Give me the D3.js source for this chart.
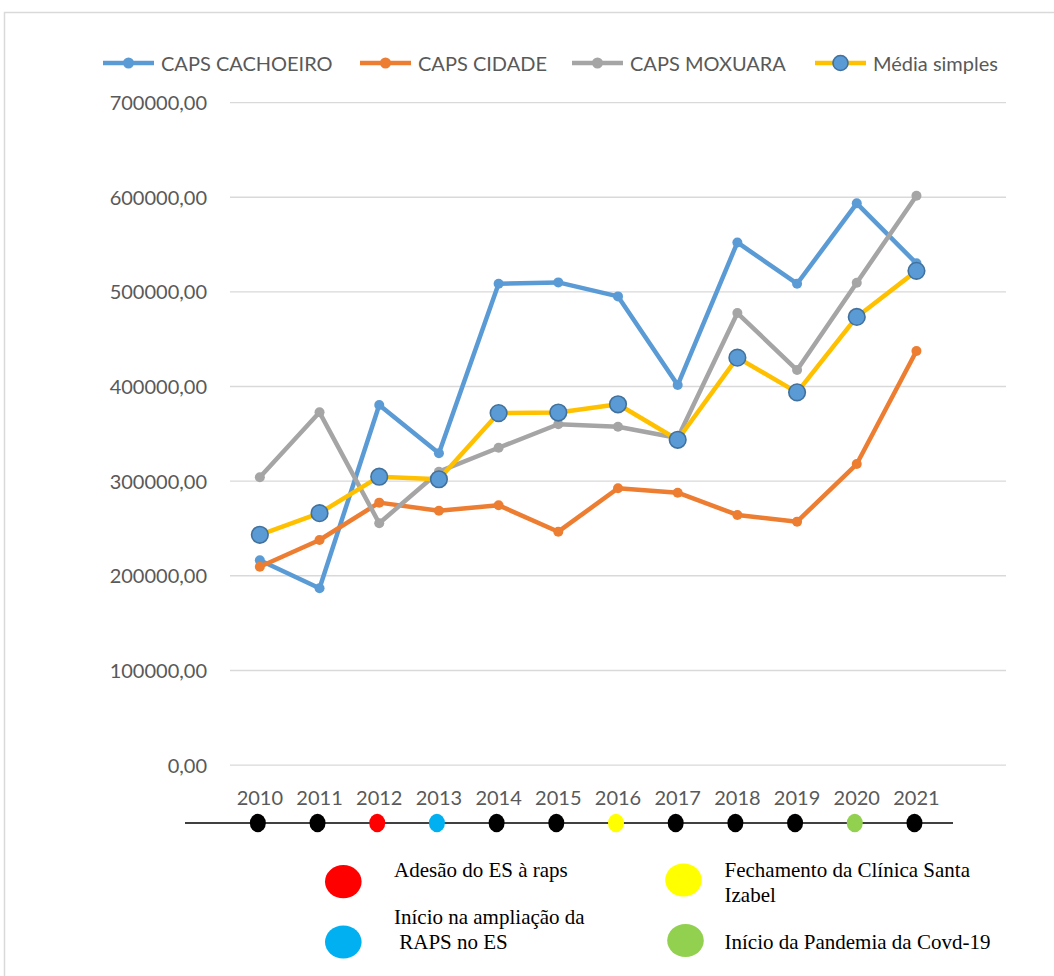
<!DOCTYPE html>
<html>
<head>
<meta charset="utf-8">
<script src="https://cdn.jsdelivr.net/npm/d3@7"></script>
<style>
  html, body { margin: 0; padding: 0; background: #ffffff; }
  svg { display: block; }
</style>
</head>
<body>
<svg id="chart" width="1054" height="976"></svg>
<script>
// Years on the category axis
const years = ["2010", "2011", "2012", "2013", "2014", "2015", "2016", "2017", "2018", "2019", "2020", "2021"];

// Yearly values per service
const cachoeiro = [216000, 186300, 380000, 329000, 508000, 509500, 494700, 401000, 551700, 508100, 593000, 529600];
const cidade    = [209100, 237300, 276800, 268300, 274000, 246100, 292000, 287300, 263800, 256700, 317600, 437000];
const moxuara   = [303600, 372200, 255000, 309500, 334800, 359600, 357000, 345000, 477100, 416900, 509200, 601000];
const media     = [242800, 265700, 304200, 301500, 371400, 372000, 380700, 343200, 430000, 393300, 473000, 521700];

const seriesNames = ["CAPS CACHOEIRO", "CAPS CIDADE", "CAPS MOXUARA", "Média simples"];

// Value axis ticks
const yTicks = [0, 100000, 200000, 300000, 400000, 500000, 600000, 700000];

// Event marker colour for each year on the timeline
const yearEventColors = ["#000000", "#000000", "#ff0000", "#00b0f0", "#000000", "#000000",
                         "#ffff00", "#000000", "#000000", "#000000", "#92d050", "#000000"];

// Event key
const eventColors = ["#ff0000", "#ffff00", "#00b0f0", "#92d050"];
const eventTexts = [
  ["Adesão do ES à raps"],
  ["Fechamento da Clínica Santa", "Izabel"],
  ["Início na ampliação da", " RAPS no ES"],
  ["Início da Pandemia da Covd-19"]
];

// ---------- layout & styles ----------
const seriesData = [cachoeiro, cidade, moxuara, media];
const seriesColors = ["#5b9bd5", "#ed7d31", "#a5a5a5", "#ffc000"];
const axisFont = "Lato, 'Open Sans', sans-serif";
const serifFont = "'Liberation Serif', 'Times New Roman', serif";
const textGrey = "#595959";

const plotL = 230, plotR = 1006, plotTop = 102.1, plotBottom = 764.6;
const step = (plotR - plotL) / 13;

const svg = d3.select("#chart");

// outer frame
svg.append("rect")
  .attr("x", 4.5).attr("y", 12.5)
  .attr("width", 1200).attr("height", 1100)
  .attr("fill", "#ffffff")
  .attr("stroke", "#d9d9d9").attr("stroke-width", 1.5);

const x = d3.scaleBand().domain(years).range([plotL, plotL + 12 * step]);
const xc = d => x(d) + x.bandwidth() / 2;
const y = d3.scaleLinear().domain([0, 700000]).range([plotBottom, plotTop]);

const fmt = v => v.toFixed(2).replace(".", ",");

// value axis with gridlines
const yAxis = svg.append("g")
  .attr("transform", `translate(${plotL},0)`)
  .call(d3.axisLeft(y).tickValues(yTicks).tickFormat(fmt)
    .tickSize(-(plotR - plotL)).tickPadding(23));
yAxis.select(".domain").remove();
yAxis.selectAll(".tick line").attr("stroke", "#d9d9d9").attr("stroke-width", 1.4);
yAxis.selectAll(".tick text")
  .attr("fill", textGrey).attr("font-family", axisFont).attr("font-size", 20)
  .attr("dy", "0.38em");

// category axis
const xAxis = svg.append("g")
  .attr("transform", `translate(0,${plotBottom})`)
  .call(d3.axisBottom(x).tickSize(0).tickPadding(26));
xAxis.select(".domain").remove();
xAxis.selectAll(".tick text")
  .attr("fill", textGrey).attr("font-family", axisFont).attr("font-size", 20);

// series lines and markers
const line = d3.line().x((d, i) => xc(years[i])).y(d => y(d));

seriesData.forEach((vals, s) => {
  const g = svg.append("g");
  g.append("path")
    .datum(vals)
    .attr("d", line)
    .attr("fill", "none")
    .attr("stroke", seriesColors[s])
    .attr("stroke-width", 4.5)
    .attr("stroke-linejoin", "round")
    .attr("stroke-linecap", "round");
  const big = s === 3;
  g.selectAll("circle")
    .data(vals)
    .join("circle")
    .attr("cx", (d, i) => xc(years[i]))
    .attr("cy", d => y(d))
    .attr("r", big ? 8.3 : 5)
    .attr("fill", big ? "#5b9bd5" : seriesColors[s])
    .attr("stroke", big ? "#41719c" : "none")
    .attr("stroke-width", big ? 1.6 : 0);
});

// legend
const legendStarts = [103, 360, 572, 815];
const legendY = 63;
seriesNames.forEach((name, s) => {
  const lx = legendStarts[s];
  const g = svg.append("g");
  g.append("line")
    .attr("x1", lx).attr("x2", lx + 51)
    .attr("y1", legendY).attr("y2", legendY)
    .attr("stroke", seriesColors[s]).attr("stroke-width", 4.5);
  const big = s === 3;
  g.append("circle")
    .attr("cx", lx + 25.5).attr("cy", legendY)
    .attr("r", big ? 7.5 : 5.5)
    .attr("fill", big ? "#5b9bd5" : seriesColors[s])
    .attr("stroke", big ? "#41719c" : "none")
    .attr("stroke-width", big ? 1.6 : 0);
  g.append("text")
    .attr("x", lx + 58).attr("y", legendY + 7.5)
    .attr("fill", textGrey).attr("font-family", axisFont).attr("font-size", 20)
    .text(name);
});

// event timeline
const timelineY = 823;
svg.append("line")
  .attr("x1", 185).attr("x2", 953)
  .attr("y1", timelineY).attr("y2", timelineY)
  .attr("stroke", "#000000").attr("stroke-width", 1.5);
svg.append("g").selectAll("ellipse")
  .data(years)
  .join("ellipse")
  .attr("cx", d => xc(d) - 2)
  .attr("cy", timelineY)
  .attr("rx", 8).attr("ry", 9.3)
  .attr("fill", (d, i) => yearEventColors[i]);

// event key
const eventLayout = [
  { cx: 343.3, cy: 881.7, tx: 394, ty: 877 },
  { cx: 683.5, cy: 880,   tx: 724.5, ty: 877 },
  { cx: 343.3, cy: 942,   tx: 394, ty: 924 },
  { cx: 685.5, cy: 940.5, tx: 724.5, ty: 949 }
];
eventTexts.forEach((lines, k) => {
  const L = eventLayout[k];
  svg.append("ellipse")
    .attr("cx", L.cx).attr("cy", L.cy)
    .attr("rx", 18.3).attr("ry", 16.6)
    .attr("fill", eventColors[k]);
  const t = svg.append("text")
    .attr("font-family", serifFont).attr("font-size", 21)
    .attr("fill", "#000000")
    .attr("xml:space", "preserve")
    .style("white-space", "pre");
  lines.forEach((ln, j) => {
    t.append("tspan")
      .attr("x", L.tx).attr("y", L.ty + j * 24.5)
      .text(ln);
  });
});
</script>
</body>
</html>
